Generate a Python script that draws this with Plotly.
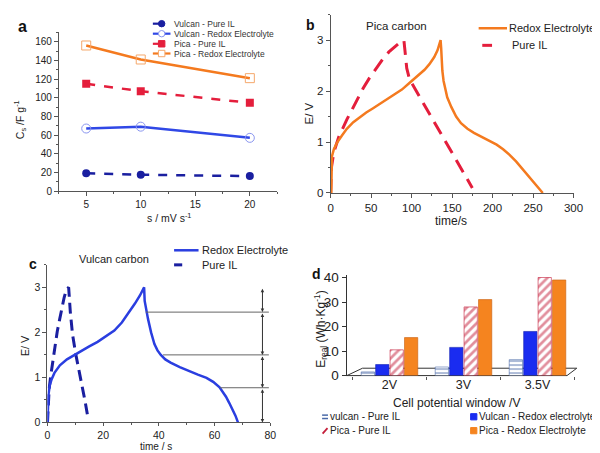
import plotly.graph_objects as go

W, H = 600, 453
def px(x): return x / W
def py(y): return 1 - y / H

FONT = "'Liberation Sans', Arial, Helvetica, sans-serif"

# ---------------- Panel a data ----------------
a_rates = [5, 10, 20]
a_vulcan_il = [19, 17.5, 16]
a_vulcan_redox = [67, 69, 57]
a_pica_il = [115, 107, 94.5]
a_pica_redox = [156, 141, 121]
a_names = ["Vulcan - Pure IL", "Vulcan - Redox Electrolyte", "Pica - Pure IL", "Pica - Redox Electrolyte"]

# ---------------- Panel b data (Pica carbon) ----------------
b_redox_t = [0.8, 1.0, 1.6, 4, 8, 14, 20, 28, 36, 44, 52, 60, 68, 78, 88, 98, 108, 116, 122, 128, 132, 135.8,
             136.5, 137.2, 138, 139.5, 141, 144, 149, 155, 161, 169, 177, 187, 197, 205, 213, 221, 229, 240, 250, 257, 262]
b_redox_E = [0.0, 0.5, 0.72, 0.86, 0.99, 1.13, 1.26, 1.39, 1.49, 1.58, 1.66, 1.74, 1.82, 1.92, 2.03, 2.17, 2.30, 2.42, 2.53, 2.67, 2.80, 3.0,
             2.85, 2.6, 2.4, 2.2, 2.07, 1.88, 1.69, 1.50, 1.37, 1.26, 1.18, 1.10, 1.03, 0.95, 0.86, 0.75, 0.62, 0.42, 0.23, 0.09, 0.0]
b_il_t = [0, 0.5, 1, 4, 10, 20, 30, 40, 48, 56, 64, 72, 80, 86, 90.5, 92, 94, 97.5, 108, 120, 130, 140, 150, 160, 170, 175]
b_il_E = [0, 0.3, 0.5, 0.8, 1.1, 1.44, 1.76, 2.05, 2.26, 2.45, 2.62, 2.77, 2.89, 2.96, 3.0, 2.7, 2.45, 2.23, 1.94, 1.61, 1.34, 1.06, 0.79, 0.51, 0.24, 0.1]

# ---------------- Panel c data (Vulcan carbon) ----------------
c_redox_t = [0, 0.1, 0.35, 0.8, 1.5, 2.5, 4.45, 7, 9.1, 12, 15, 18, 20.8, 24, 26.7, 29, 31.4, 33.2, 34.7,
             34.9, 35.4, 36.1, 37.2, 38.4, 39.5, 40.7, 42.3, 44.2, 47.5, 51.2, 54, 57.1, 59.5, 61.8, 63, 64.1, 65.3, 66.5, 67.5, 68.4]
c_redox_E = [0, 0.3, 0.61, 0.82, 0.96, 1.1, 1.27, 1.40, 1.48, 1.58, 1.69, 1.79, 1.9, 2.04, 2.22, 2.42, 2.64, 2.82, 3.0,
             2.7, 2.5, 2.3, 2.0, 1.74, 1.6, 1.5, 1.4, 1.33, 1.23, 1.13, 1.06, 0.99, 0.9, 0.78, 0.68, 0.57, 0.43, 0.29, 0.15, 0.0]
c_il_t = [0, 0.2, 0.6, 1.2, 2.0, 2.8, 3.5, 4.4, 5.2, 6.0, 6.8, 7.6, 8.2, 9.0, 10.2, 11.4, 12.6, 13.5, 14.4]
c_il_E = [0, 0.35, 0.75, 1.05, 1.42, 1.78, 2.02, 2.3, 2.55, 2.78, 2.95, 3.0, 2.45, 1.95, 1.5, 1.15, 0.8, 0.47, 0.15]
c_levels = [3.0, 2.45, 1.5, 0.77, 0.0]
c_level_start = [35.3, 41.5, 62.0]

# ---------------- Panel d data ----------------
d_windows = ["2V", "3V", "3.5V"]
d_vulcan_il = [1.5, 3.5, 6.5]
d_vulcan_redox = [4.5, 11.5, 18]
d_pica_il = [10.5, 28, 40]
d_pica_redox = [15.5, 31, 39]
d_names = ["vulcan - Pure IL", "Vulcan - Redox electrolyte", "Pica - Pure IL", "Pica - Redox Electrolyte"]

NAVY = "#1a1fa0"
BLUE = "#3048e6"
LBLUE = "#8a96f0"
RED = "#e41e3c"
ORANGE = "#f47a1f"
LORANGE = "#f5a86c"
CBLUE = "#2a3ee0"
DBLUE = "#1a2cf0"
DORANGE = "#f5841f"
DRED = "#c41e3a"
DSTRIPE = "#4a6aa8"
AX = "#555555"

fig = go.Figure()

# Panel a
fig.add_trace(go.Scatter(x=a_rates, y=a_vulcan_il, name=a_names[0], mode="lines+markers",
                         line=dict(color=NAVY, width=2.5, dash="dash"),
                         marker=dict(symbol="circle", size=8, color=NAVY), xaxis="x", yaxis="y", showlegend=False))
fig.add_trace(go.Scatter(x=a_rates, y=a_vulcan_redox, name=a_names[1], mode="lines+markers",
                         line=dict(color=BLUE, width=2.5),
                         marker=dict(symbol="circle-open", size=9, color=LBLUE, line=dict(width=1)), xaxis="x", yaxis="y", showlegend=False))
fig.add_trace(go.Scatter(x=a_rates, y=a_pica_il, name=a_names[2], mode="lines+markers",
                         line=dict(color=RED, width=2.5, dash="dash"),
                         marker=dict(symbol="square", size=8, color=RED), xaxis="x", yaxis="y", showlegend=False))
fig.add_trace(go.Scatter(x=a_rates, y=a_pica_redox, name=a_names[3], mode="lines+markers",
                         line=dict(color=ORANGE, width=2.5),
                         marker=dict(symbol="square-open", size=9, color=LORANGE, line=dict(width=1)), xaxis="x", yaxis="y", showlegend=False))

# Panel b
fig.add_trace(go.Scatter(x=b_il_t, y=b_il_E, name="Pure IL", mode="lines",
                         line=dict(color=RED, width=3, dash="14px,8px"), xaxis="x2", yaxis="y2", showlegend=False))
fig.add_trace(go.Scatter(x=b_redox_t, y=b_redox_E, name="Redox Electrolyte", mode="lines",
                         line=dict(color=ORANGE, width=2.5), xaxis="x2", yaxis="y2", showlegend=False))

# Panel c
fig.add_trace(go.Scatter(x=c_il_t, y=c_il_E, name="Pure IL", mode="lines",
                         line=dict(color=NAVY, width=3, dash="11px,6px"), xaxis="x3", yaxis="y3", showlegend=False))
fig.add_trace(go.Scatter(x=c_redox_t, y=c_redox_E, name="Redox Electrolyte", mode="lines",
                         line=dict(color=CBLUE, width=2.5), xaxis="x3", yaxis="y3", showlegend=False))

# Panel d
fig.add_trace(go.Bar(x=d_windows, y=d_vulcan_il, name=d_names[0], xaxis="x4", yaxis="y4", showlegend=False,
                     marker=dict(color=DSTRIPE, pattern=dict(shape="-", fgcolor=DSTRIPE, bgcolor="white", size=4, solidity=0.45),
                                 line=dict(color=DSTRIPE, width=0.6))))
fig.add_trace(go.Bar(x=d_windows, y=d_vulcan_redox, name=d_names[1], xaxis="x4", yaxis="y4", showlegend=False,
                     marker=dict(color=DBLUE, line=dict(color="#1020b0", width=0.6))))
fig.add_trace(go.Bar(x=d_windows, y=d_pica_il, name=d_names[2], xaxis="x4", yaxis="y4", showlegend=False,
                     marker=dict(color=DRED, pattern=dict(shape="/", fgcolor=DRED, bgcolor="white", size=6, solidity=0.45),
                                 line=dict(color=DRED, width=0.6))))
fig.add_trace(go.Bar(x=d_windows, y=d_pica_redox, name=d_names[3], xaxis="x4", yaxis="y4", showlegend=False,
                     marker=dict(color=DORANGE, line=dict(color="#c86010", width=0.6))))

def axstyle(**kw):
    d = dict(showline=True, linecolor=AX, linewidth=1, ticks="outside", ticklen=4, tickcolor=AX,
             showgrid=False, zeroline=False, tickfont=dict(family=FONT, color="#222"), fixedrange=True)
    d.update(kw)
    return d

layout = dict(
    width=W, height=H, margin=dict(l=0, r=0, t=0, b=0),
    paper_bgcolor="white", plot_bgcolor="rgba(0,0,0,0)",
    font=dict(family=FONT, color="#222"),
    barmode="group", bargap=0.22, bargroupgap=0.08,
    showlegend=False,
    xaxis=axstyle(domain=[px(49), px(272)], range=[2.5, 22.5], tickvals=[5, 10, 15, 20],
                  tickfont=dict(size=10, family=FONT, color="#222"), anchor="y",
                  minor=dict(ticks="outside", ticklen=2, tickcolor=AX, dtick=2.5, tick0=0)),
    yaxis=axstyle(domain=[py(183.3), py(20)], range=[0, 170], dtick=20, tick0=0,
                  tickfont=dict(size=10, family=FONT, color="#222"), anchor="x",
                  minor=dict(ticks="outside", ticklen=2, tickcolor=AX, dtick=10, tick0=0)),
    xaxis2=axstyle(domain=[px(326.7), px(575)], range=[0, 300], dtick=50, tick0=0,
                   tickfont=dict(size=11.5, family=FONT, color="#222"), anchor="y2",
                   minor=dict(ticks="outside", ticklen=2, tickcolor=AX, dtick=25, tick0=0)),
    yaxis2=axstyle(domain=[py(185.3), py(1.8)], range=[0, 3.5], dtick=1, tick0=0,
                   tickfont=dict(size=11.5, family=FONT, color="#222"), anchor="x2",
                   minor=dict(ticks="outside", ticklen=2, tickcolor=AX, dtick=0.5, tick0=0)),
    xaxis3=axstyle(domain=[px(37.3), px(265)], range=[0, 80], dtick=20, tick0=0, ticklen=3,
                   tickfont=dict(size=10.5, family=FONT, color="#222"), anchor="y3",
                   minor=dict(ticks="outside", ticklen=2, tickcolor=AX, dtick=10, tick0=0)),
    yaxis3=axstyle(domain=[py(421.5), py(259.3)], range=[0, 3.5], dtick=1, tick0=0,
                   tickfont=dict(size=10.5, family=FONT, color="#222"), anchor="x3",
                   minor=dict(ticks="outside", ticklen=2, tickcolor=AX, dtick=0.5, tick0=0)),
    xaxis4=axstyle(domain=[px(343), px(576)], range=[-0.58, 2.5], type="category", tickson="boundaries",
                   ticklen=3, tickfont=dict(size=12.5, family=FONT, color="#222"), anchor="y4", showline=False),
    yaxis4=axstyle(domain=[py(373.3), py(269.8)], range=[0, 41], tickvals=[0, 10, 20, 30, 40],
                   tickfont=dict(size=13.5, family=FONT, color="#222"), anchor="x4", linecolor="#333", tickcolor="#333"),
)
fig.update_layout(**layout)

shapes = []
ann = []

def text(x, y, s, size, anchor="left", bold=False, angle=0, color="#222"):
    ann.append(dict(x=px(x), y=py(y), xref="paper", yref="paper", text=(f"<b>{s}</b>" if bold else s),
                    showarrow=False, xanchor=anchor, yanchor="middle", textangle=angle,
                    font=dict(size=size, family=FONT, color=color), borderpad=0))

def seg(x0, y0, x1, y1, color, width, dash="solid"):
    shapes.append(dict(type="line", xref="paper", yref="paper", x0=px(x0), y0=py(y0), x1=px(x1), y1=py(y1),
                       line=dict(color=color, width=width, dash=dash)))

def blob(kind, cx, cy, r, fill, edge):
    shapes.append(dict(type=kind, xref="paper", yref="paper", x0=px(cx - r), x1=px(cx + r), y0=py(cy + r), y1=py(cy - r),
                       fillcolor=fill, line=dict(color=edge, width=1)))

# Panel labels
text(6, 14, "a", 16, bold=True, color="#111")
text(300, 12, "b", 14, bold=True, color="#111")
text(17, 258, "c", 14, bold=True, color="#111")
text(307, 269, "d", 14, bold=True, color="#111")

# Axis titles
text(9.5, 110, "C<sub>s</sub> /F g<sup>-1</sup>", 10.5, anchor="center", angle=-90)
text(161, 211, "s / mV s<sup>-1</sup>", 10.5, anchor="center")
text(305, 103, "E/ V", 11.5, anchor="center", angle=-90)
text(450, 214, "time/s", 12, anchor="center")
text(14.5, 343, "E/ V", 11, anchor="center", angle=-90)
text(148, 446.5, "time / s", 10, anchor="center")
text(316, 326, "E<sub>real</sub> (Wh·Kg<sup>-1</sup>)", 12, anchor="center", angle=-90)
text(455, 401.5, "Cell potential window /V", 12, anchor="center")

# Panel a legend
rows_a = [11, 21.3, 31.7, 41.7]
seg(145, rows_a[0], 163, rows_a[0], NAVY, 2.2, "dash"); blob("circle", 154, rows_a[0], 3.3, NAVY, NAVY)
seg(145, rows_a[1], 163, rows_a[1], BLUE, 2.2); blob("circle", 154, rows_a[1], 3.3, "white", LBLUE)
seg(145, rows_a[2], 163, rows_a[2], RED, 2.2, "dash"); blob("rect", 154, rows_a[2], 3.3, RED, RED)
seg(145, rows_a[3], 163, rows_a[3], ORANGE, 2.2); blob("rect", 154, rows_a[3], 3.3, "white", LORANGE)
for r, n in zip(rows_a, a_names):
    text(166, r, n, 8.5, color="#333")

# Panel b legend + label
text(361.7, 13.3, "Pica carbon", 11.5)
seg(478, 15.7, 507, 15.7, ORANGE, 2.5)
text(508, 15.7, "Redox Electrolyte", 11)
seg(481.7, 33.3, 491.7, 33.3, RED, 3)
text(510.7, 33.3, "Pure IL", 11)

# Panel c legend + label
text(68.3, 253.3, "Vulcan carbon", 11)
seg(166.7, 244.3, 191.7, 244.3, CBLUE, 2.5)
text(194, 244.3, "Redox Electrolyte", 11)
seg(166.7, 259.3, 175, 259.3, NAVY, 3)
text(194, 259.3, "Pure IL", 11)

# Panel c level lines and double arrows
for lvl, t0 in zip(c_levels[1:4], c_level_start):
    shapes.append(dict(type="line", xref="x3", yref="y3", x0=t0, x1=79.5, y0=lvl, y1=lvl,
                       line=dict(color="#666", width=1)))
for hi, lo in zip(c_levels[:-1], c_levels[1:]):
    ann.append(dict(x=77.2, y=lo, ax=77.2, ay=hi, xref="x3", yref="y3", axref="x3", ayref="y3", text="",
                    showarrow=True, arrowhead=2, arrowside="end+start", arrowsize=0.7, arrowwidth=1,
                    arrowcolor="#333", standoff=0, startstandoff=0))

# Panel d floor (3D base)
shapes.append(dict(type="path", xref="paper", yref="paper", layer="below",
                   path=f"M{px(343.3)},{py(373.3)} L{px(568.3)},{py(373.3)} L{px(578.3)},{py(365.7)} L{px(359.3)},{py(365.7)} Z",
                   fillcolor="white", line=dict(color="#333", width=1)))

# Panel d legend
seg(318, 414, 324, 414, DSTRIPE, 1.5); seg(318, 417.5, 324, 417.5, DSTRIPE, 1.5)
text(325.5, 415.7, d_names[0], 10)
seg(318.5, 433, 323.5, 427.5, DRED, 1.8)
text(325.5, 430, d_names[2], 10)
blob("rect", 473, 415.7, 3.2, DBLUE, DBLUE)
text(477.5, 415.7, d_names[1], 10)
blob("rect", 473, 430, 3.2, DORANGE, DORANGE)
text(477.5, 430, d_names[3], 10)

fig.update_layout(shapes=shapes, annotations=ann)
fig.write_html("out.html")
